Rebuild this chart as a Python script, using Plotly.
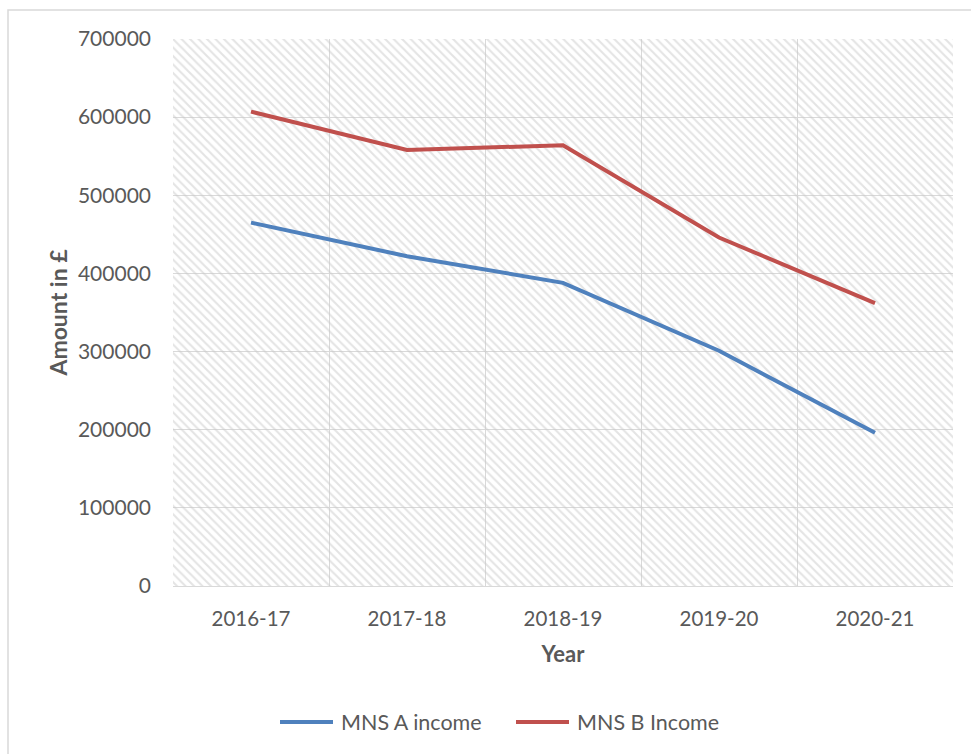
import plotly.graph_objects as go

# Annual income by financial year
years = ["2016-17", "2017-18", "2018-19", "2019-20", "2020-21"]
mns_a_income = [465000, 422000, 388000, 301000, 196000]
mns_b_income = [607000, 558000, 564000, 446000, 362000]
series_names = ["MNS A income", "MNS B Income"]
y_max = 700000

BLUE = "#4F81BD"
RED = "#C0504D"
GRID = "#D9D9D9"
TEXT = "#595959"
FONT = "Lato, Open Sans, sans-serif"

# pixel geometry of the plotting area
L, R, T, B = 173, 953, 39, 586
W, H = 971, 754


def px_x(p):
    return (p - L) / (R - L)


def px_y(p):
    return (B - p) / (B - T)


fig = go.Figure()

# Hatched plot background: one full-height bar per category slot
fig.add_trace(go.Bar(
    x=years, y=[y_max] * len(years), width=1,
    marker=dict(color="rgba(0,0,0,0)", line=dict(width=0),
                pattern=dict(shape="\\", size=6, solidity=0.35,
                             fgcolor="#C9C9C9", bgcolor="rgba(0,0,0,0)")),
    showlegend=False, hoverinfo="skip",
))

fig.add_trace(go.Scatter(x=years, y=mns_a_income, mode="lines", name=series_names[0],
                         line=dict(color=BLUE, width=4), showlegend=False))
fig.add_trace(go.Scatter(x=years, y=mns_b_income, mode="lines", name=series_names[1],
                         line=dict(color=RED, width=4), showlegend=False))

# Legend drawn below the chart with long line samples
legend_items = [(series_names[0], BLUE, 280, 333, 339),
                (series_names[1], RED, 516, 569, 575)]
legend_y = px_y(722)
shapes = [dict(type="rect", xref="paper", yref="paper",
               x0=px_x(8), x1=1.1, y0=-0.4, y1=px_y(10),
               line=dict(color=GRID, width=1.5), fillcolor="rgba(0,0,0,0)", layer="below")]
annotations = []
for name, color, lx0, lx1, tx in legend_items:
    shapes.append(dict(type="line", xref="paper", yref="paper",
                       x0=px_x(lx0), x1=px_x(lx1), y0=legend_y, y1=legend_y,
                       line=dict(color=color, width=4)))
    annotations.append(dict(text=name, xref="paper", yref="paper", x=px_x(tx), y=legend_y,
                            xanchor="left", yanchor="middle", showarrow=False,
                            font=dict(size=21.5, color=TEXT, family=FONT)))

fig.update_layout(
    width=W, height=H,
    margin=dict(l=L, r=W - R, t=T, b=H - B),
    paper_bgcolor="white", plot_bgcolor="white",
    font=dict(family=FONT, size=21, color=TEXT),
    showlegend=False,
    xaxis=dict(
        type="category", tickson="boundaries", showgrid=True, gridcolor=GRID, gridwidth=1,
        showline=True, linecolor=GRID, linewidth=1, ticks="", ticklabelstandoff=14,
        range=[-0.5, len(years) - 0.5], tickfont=dict(size=20.5),
        title=dict(text="<b>Year</b>", standoff=18, font=dict(size=22, color=TEXT)),
        zeroline=False,
    ),
    yaxis=dict(
        range=[0, y_max], dtick=100000, tickformat="d", showgrid=True, gridcolor=GRID,
        gridwidth=1, zeroline=False, ticks="", ticklabelstandoff=21, tickfont=dict(size=21),
        title=dict(text="<b>Amount in £</b>", standoff=3, font=dict(size=23, color=TEXT)),
    ),
    shapes=shapes,
    annotations=annotations,
)

fig.write_html("out.html")
